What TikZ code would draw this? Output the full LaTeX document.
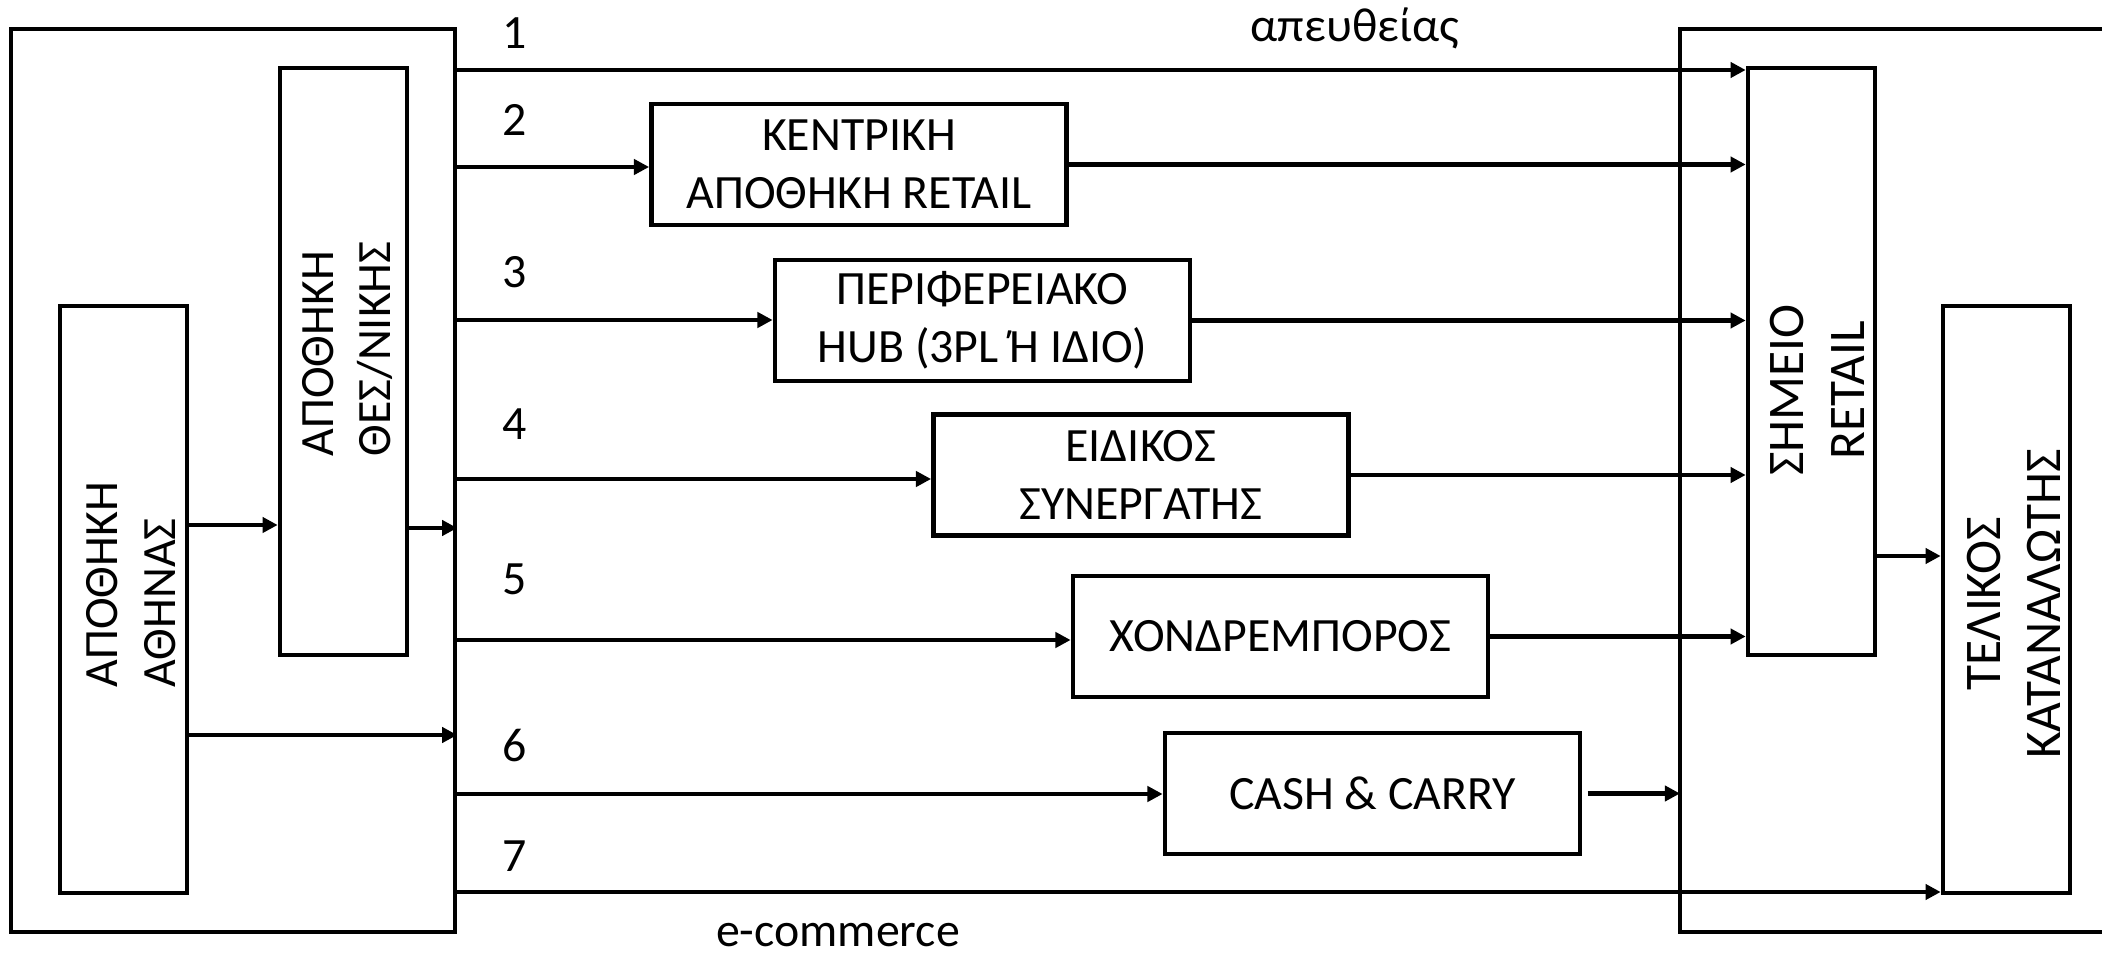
\documentclass[tikz,border=0pt]{standalone}
\usepackage{fontspec}
\setmainfont{Carlito}
\usetikzlibrary{arrows.meta}
\begin{document}
\begin{tikzpicture}[x=0.01cm, y=-0.01cm,
  every node/.style={font=\fontsize{13.6}{16.4}\selectfont, inner sep=0pt},
  big/.style={font=\fontsize{14.6}{17.2}\selectfont},
  box/.style={draw, line width=1.3pt, align=center, minimum width=4.15cm, minimum height=1.21cm},
  tall/.style={draw, line width=1.3pt, minimum width=1.27cm, minimum height=5.87cm},
  up/.style={rotate=90},
  arr/.style={line width=1.3pt, -{Triangle[length=4.3pt,width=4.3pt]}}]
  \useasboundingbox (0,0) rectangle (2102,955);
  \node[draw, line width=1.2pt, minimum width=4.44cm, minimum height=9.03cm] (wh) at (233,480.5) {};
  \draw[line width=1.2pt] (2102,29) -| (1680,932) -- (2102,932);
  \coordinate (shop) at (1680,480);
  \node[tall] (ath) at (123.5,599.5) {};
  \node[tall] (thes) at (343.5,361.5) {};
  \node[tall] (ret) at (1811.5,361.5) {};
  \node[tall] (cons) at (2006.5,599.5) {};
  \node[up, align=left, anchor=west] (athT) at (131,688) {ΑΠΟΘΗΚΗ\\ΑΘΗΝΑΣ};
  \node[up, align=left, anchor=west] (thesT) at (347.5,457) {ΑΠΟΘΗΚΗ\\ΘΕΣ/ΝΙΚΗΣ};
  \node[up, big, align=center] (retT) at (1817.5,390) {ΣΗΜΕΙΟ\\RETAIL};
  \node[up, big, align=center] (consT) at (2014,604) {ΤΕΛΙΚΟΣ\\ΚΑΤΑΝΑΛΩΤΗΣ};
  \node[box] (kentr) at (859,164.5) {ΚΕΝΤΡΙΚΗ\\ΑΠΟΘΗΚΗ RETAIL};
  \node[box] (hub) at (982.5,320.5) {ΠΕΡΙΦΕΡΕΙΑΚΟ\\HUB (3PL Ή ΙΔΙΟ)};
  \node[box] (eid) at (1141,475) {ΕΙΔΙΚΟΣ\\ΣΥΝΕΡΓΑΤΗΣ};
  \node[box] (xon) at (1280.5,636.5) {ΧΟΝΔΡΕΜΠΟΡΟΣ};
  \node[box] (cc) at (1372.5,793.5) {CASH \& CARRY};
  \node (direct) at (1355,28) {απευθείας};
  \node (ecom) at (838,935) {e-commerce};
  \foreach \n/\y/\t in {1/33/70, 2/120/167, 3/272/320, 4/424/479, 5/579/640, 6/746/794, 7/856/892} {
    \node (n\n) at (515,\y) {\n};
    \coordinate (s\n) at (455,\t);
  }
  \coordinate (h1) at (0,525);
  \coordinate (h2) at (0,735);
  \coordinate (h3) at (0,556);
  \coordinate (h4) at (0,528);
  \draw[arr] (ath.east |- h1) -- (thes.west |- h1);
  \draw[arr] (thes.east |- h4) -- (wh.east |- h4);
  \draw[arr] (ath.east |- h2) -- (wh.east |- h2);
  \draw[arr] (s1) -- (s1 -| ret.west);
  \draw[arr] (s2) -- (s2 -| kentr.west);
  \draw[arr] (kentr.east) -- (kentr.east -| ret.west);
  \draw[arr] (s3) -- (s3 -| hub.west);
  \draw[arr] (hub.east) -- (hub.east -| ret.west);
  \draw[arr] (s4) -- (s4 -| eid.west);
  \draw[arr] (eid.east) -- (eid.east -| ret.west);
  \draw[arr] (s5) -- (s5 -| xon.west);
  \draw[arr] (xon.east) -- (xon.east -| ret.west);
  \draw[arr] (s6) -- (s6 -| cc.west);
  \draw[arr, shorten <=1.5pt] (cc.east) -- (cc.east -| shop);
  \draw[arr] (s7) -- (s7 -| cons.west);
  \draw[arr] (ret.east |- h3) -- (cons.west |- h3);
\end{tikzpicture}
\end{document}
